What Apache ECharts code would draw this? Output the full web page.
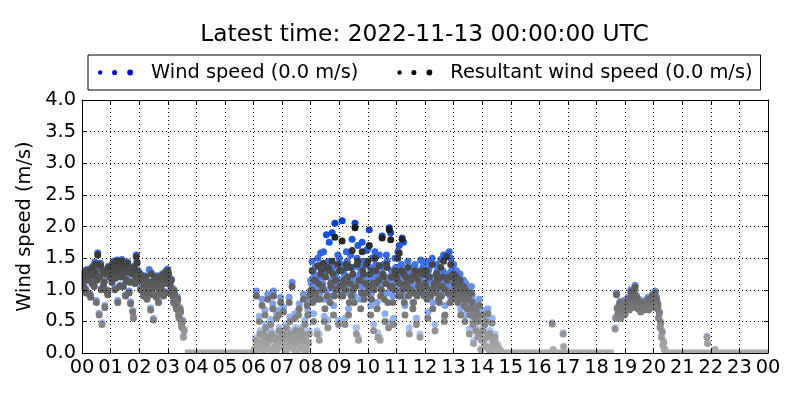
<!DOCTYPE html>
<html>
<head>
<meta charset="utf-8">
<script src="https://cdn.jsdelivr.net/npm/echarts@6/dist/echarts.min.js"></script>
<style>html,body{margin:0;padding:0;background:#fff}#chart{width:800px;height:400px}</style>
</head>
<body>
<div id="chart"></div>
<script>
// ---- data (3-minute samples; "b" arrays are the samples in between) ----
const stepMinutes = 3;

const segment1Start = '00:00';
const windSpeed1 = [
  1.22,1.08,1.3,0.98,1.18,1.33,0.9,1.13,1.25,1.44,0.83,1.58,0.63,1.42,0.48,1.08,0.75,1.28,0.95,1.33,
  1.38,1.15,1.45,1.03,1.31,0.83,1.41,1.23,1.48,1.08,1.35,1.18,1.43,0.98,0.81,1.28,0.58,1.13,1.55,1.31,
  1.28,1.03,1.18,0.93,1.13,1.08,0.98,1.32,0.71,1.03,0.55,1.15,0.91,1.21,0.98,1.08,1.25,0.93,1.13,1.31,
  1.33,1.18,0.98,1.03,0.83,0.93,0.73,0.88,0.58,0.68,0.43,0.28
];
const resultant1 = [
  1.2,1.05,1.28,0.95,1.15,1.3,0.88,1.1,1.22,1.4,0.8,1.55,0.6,1.38,0.45,1.05,0.72,1.25,0.92,1.3,
  1.35,1.12,1.42,1.0,1.28,0.8,1.38,1.2,1.45,1.05,1.32,1.15,1.4,0.95,0.78,1.25,0.55,1.1,1.52,1.28,
  1.25,1.0,1.15,0.9,1.1,1.05,0.95,1.08,0.68,1.0,0.52,1.12,0.88,1.18,0.95,1.05,1.22,0.9,1.1,1.28,
  1.3,1.15,0.95,1.0,0.8,0.9,0.7,0.85,0.55,0.65,0.4,0.25
];
const segment1bStart = '00:01.5';
const windSpeed1b = [
  1.12,1.27,1.02,1.32,1.2,0.94,1.24,1.37,1.07,1.3,1.17,1.42,1.22,1.02,1.32,1.14,1.27,1.0,1.37,1.22,
  1.27,1.42,1.32,1.2,1.47,1.37,1.07,1.32,1.24,1.4,0.92,1.44,1.3,1.14,1.32,0.67,1.37,1.22,1.44,1.17,
  1.17,1.24,1.0,1.1,1.22,0.87,1.14,1.02,1.27,0.94,1.17,1.07,1.22,0.82,1.12,1.02,1.2,1.27,0.97,1.24,
  1.27,1.1,1.17,0.92,1.0,0.77,0.82,0.62,0.72,0.47,0.52,0.37
];
const resultant1b = [
  1.1,1.25,1.0,1.3,1.18,0.92,1.22,1.35,1.05,1.28,1.15,1.4,1.2,1.0,1.3,1.12,1.25,0.98,1.35,1.2,
  1.25,1.4,1.3,1.18,1.45,1.35,1.05,1.3,1.22,1.38,0.9,1.42,1.28,1.12,1.3,0.65,1.35,1.2,1.42,1.15,
  1.15,1.22,0.98,1.08,1.2,0.85,1.12,1.0,1.25,0.92,1.15,1.05,1.2,0.8,1.1,1.0,1.18,1.25,0.95,1.22,
  1.25,1.08,1.15,0.9,0.98,0.75,0.8,0.6,0.7,0.45,0.5,0.35
];

const segment2Start = '06:00';
const windSpeed2 = [
  0,0.03,0.98,0.2,0.58,0.08,0.85,0.36,0.68,0.14,0.93,0.25,0.53,0.04,0.98,0.3,0.63,0.14,0.4,0.88,
  0.25,0.72,0.08,0.46,0.2,0.88,0.35,1.12,0.14,0.62,0.3,0.04,0.78,0.4,0.2,0.93,0.52,0.08,0.68,0.35,
  1.15,1.45,0.62,1.35,1.0,1.5,0.3,1.58,1.2,1.6,0.85,1.87,0.52,1.75,1.3,1.9,0.75,2.05,1.15,1.55,
  1.5,1.1,2.09,1.3,0.55,1.6,1.4,0.95,1.55,1.8,1.2,2.05,0.4,1.7,1.35,0.85,1.75,1.45,1.1,1.62,
  1.65,1.95,0.75,1.5,0.45,1.6,1.3,0.32,1.55,1.05,1.85,1.4,0.62,1.55,0.95,1.98,1.9,1.25,0.55,1.5,
  1.35,1.6,1.7,1.05,1.82,1.75,0.75,1.25,1.45,0.4,1.15,1.35,0.95,1.4,0.55,1.3,1.1,1.47,1.2,1.42,
  1.25,1.45,0.65,1.35,1.05,1.5,1.15,0.45,1.4,1.3,0.95,1.48,1.2,1.55,0.75,1.55,1.1,1.6,1.5,1.0,
  1.4,1.15,1.3,0.92,1.2,0.7,1.05,1.15,0.6,0.98,1.02,0.38,0.8,0.9,0.2,0.62,0.75,0.3,0.85,0.08,
  0.68,0.25,0.52,0.14,0.7,0.35,0.08,0.55,0.2,0.3,0.03,0.14,0.08,0.03
];
const resultant2 = [
  0,0,0.9,0.15,0.5,0.05,0.75,0.3,0.6,0.1,0.85,0.2,0.45,0.02,0.9,0.25,0.55,0.1,0.35,0.8,
  0.2,0.65,0.05,0.4,0.15,0.8,0.3,1.05,0.1,0.55,0.25,0.02,0.7,0.35,0.15,0.85,0.45,0.05,0.6,0.3,
  0.95,1.3,0.5,1.15,0.85,1.38,0.2,1.25,1.05,1.42,0.7,1.35,0.4,1.3,1.1,1.45,0.6,1.83,1.0,1.4,
  1.3,0.9,1.77,1.1,0.45,1.4,1.2,0.8,1.35,1.62,1.0,1.98,0.3,1.45,1.15,0.7,1.6,1.25,0.95,1.4,
  1.45,1.7,0.6,1.3,0.35,1.5,1.1,0.25,1.38,0.9,1.82,1.2,0.5,1.4,0.8,1.95,1.79,1.05,0.45,1.3,
  1.2,1.5,1.58,0.9,1.8,1.25,0.6,1.1,1.35,0.3,1.0,1.2,0.8,1.3,0.45,1.15,0.95,1.28,1.05,1.3,
  1.1,1.3,0.55,1.2,0.9,1.4,1.0,0.35,1.25,1.15,0.8,1.35,1.05,1.45,0.6,1.52,0.95,1.2,1.4,0.85,
  1.25,1.0,1.2,0.8,1.1,0.6,0.95,1.05,0.5,0.85,0.9,0.3,0.7,0.8,0.15,0.55,0.65,0.25,0.75,0.05,
  0.6,0.2,0.45,0.1,0.62,0.3,0.05,0.47,0.15,0.25,0.02,0.1,0.05,0.02
];
const segment2bStart = '06:01.5';
const windSpeed2b = [
  0.07,0.24,0.13,0.02,0.35,0.13,0.24,0.07,0.46,0.18,0.3,0.07,0.35,0.78,0.13,0.24,0.07,0.68,0.18,0.3,
  0.13,0.35,0.18,0.07,0.3,0.57,0.13,0.24,0.07,0.4,0.18,0.68,0.3,0.13,0.35,0.07,0.24,0.83,0.18,0.98,
  1.1,0.9,1.25,1.05,0.35,1.2,0.95,1.4,1.1,0.58,1.3,1.0,1.45,0.9,1.15,1.35,1.0,1.25,1.1,0.52,
  1.15,1.4,1.0,1.25,1.1,1.45,0.7,1.2,1.0,1.35,0.9,1.15,1.5,0.25,1.25,1.05,1.4,0.95,1.2,1.05,
  1.15,1.35,0.95,1.2,1.1,1.4,0.8,1.25,0.25,1.1,1.35,0.95,1.2,1.45,0.48,1.15,1.3,0.9,1.1,1.35,
  1.25,1.0,1.2,1.4,1.1,0.9,1.3,1.15,1.0,1.1,1.25,0.8,1.05,1.3,1.0,1.15,0.3,1.1,1.35,1.0,
  1.15,0.95,1.3,1.05,1.1,0.8,1.2,1.05,1.3,0.95,1.15,1.0,1.3,0.58,1.1,1.25,1.05,0.9,1.3,1.05,
  1.2,1.3,1.0,1.1,1.25,0.95,1.05,0.85,1.1,0.8,0.95,0.68,1.05,0.52,0.8,0.4,0.68,0.57,0.35,0.24,
  0.4,0.13,0.57,0.3,0.07,0.35,0.13,0.24,0.07,0.18,0.03,0.07,0.03,0.03
];
const resultant2b = [
  0.05,0.2,0.1,0.0,0.3,0.1,0.2,0.05,0.4,0.15,0.25,0.05,0.3,0.7,0.1,0.2,0.05,0.6,0.15,0.25,
  0.1,0.3,0.15,0.05,0.25,0.5,0.1,0.2,0.05,0.35,0.15,0.6,0.25,0.1,0.3,0.05,0.2,0.75,0.15,0.9,
  1.0,0.8,1.15,0.95,0.3,1.1,0.85,1.3,1.0,0.5,1.2,0.9,1.35,0.8,1.05,1.25,0.9,1.15,1.0,0.45,
  1.05,1.3,0.9,1.15,1.0,1.35,0.6,1.1,0.9,1.25,0.8,1.05,1.4,0.2,1.15,0.95,1.3,0.85,1.1,0.95,
  1.05,1.25,0.85,1.1,1.0,1.3,0.7,1.15,0.2,1.0,1.25,0.85,1.1,1.35,0.4,1.05,1.2,0.8,1.0,1.25,
  1.15,0.9,1.1,1.3,1.0,0.8,1.2,1.05,0.9,1.0,1.15,0.7,0.95,1.2,0.9,1.05,0.25,1.0,1.25,0.9,
  1.05,0.85,1.2,0.95,1.0,0.7,1.1,0.95,1.2,0.85,1.05,0.9,1.2,0.5,1.0,1.15,0.95,0.8,1.2,0.95,
  1.1,1.2,0.9,1.0,1.15,0.85,0.95,0.75,1.0,0.7,0.85,0.6,0.95,0.45,0.7,0.35,0.6,0.5,0.3,0.2,
  0.35,0.1,0.5,0.25,0.05,0.3,0.1,0.2,0.05,0.15,0.02,0.05,0.02,0.02
];

const segment3Start = '18:39';
const windSpeed3 = [
  0.4,0.95,0.63,0.78,0.58,0.73,0.83,0.65,0.75,0.88,0.71,1.0,0.81,0.93,1.07,0.91,0.73,0.85,
  0.68,0.78,0.71,0.83,0.75,0.88,0.73,0.81,0.93,0.83,0.98,0.88,0.79,0.66,0.5,0.35,0.19,0.06
];
const resultant3 = [
  0.38,0.92,0.6,0.75,0.55,0.7,0.8,0.62,0.72,0.85,0.68,0.97,0.78,0.9,1.04,0.88,0.7,0.82,
  0.65,0.75,0.68,0.8,0.72,0.85,0.7,0.78,0.9,0.8,0.95,0.85,0.76,0.63,0.47,0.33,0.17,0.05
];
const segment3bStart = '18:40.5';
const windSpeed3b = [
  0.57,0.72,0.67,0.82,0.7,0.77,0.62,0.8,0.72,0.84,0.77,0.9,0.74,0.97,0.82,0.76,0.8,0.7,
  0.74,0.82,0.72,0.77,0.84,0.7,0.78,0.87,0.74,0.9,0.82,0.72,0.57,0.42,0.27,0.14,0.06
];
const resultant3b = [
  0.55,0.7,0.65,0.8,0.68,0.75,0.6,0.78,0.7,0.82,0.75,0.88,0.72,0.95,0.8,0.74,0.78,0.68,
  0.72,0.8,0.7,0.75,0.82,0.68,0.76,0.85,0.72,0.88,0.8,0.7,0.55,0.4,0.25,0.12,0.05
];

const isolatedTimes = ['16:27','16:29','16:50','16:51','21:52','21:53','22:09'];
const isolatedWind = [0.48,0.06,0.32,0.11,0.27,0.16,0.06];
const isolatedResultant = [0.46,0.05,0.3,0.1,0.25,0.15,0.05];

// periods where both speeds are 0.0 m/s
const calmPeriods = [['03:36','06:06'],['14:42','18:36'],['20:27','24:00']];

const xTickLabels = ['00','01','02','03','04','05','06','07','08','09','10','11','12',
  '13','14','15','16','17','18','19','20','21','22','23','00'];
const windName = 'Wind speed (0.0 m/s)';
const resultantName = 'Resultant wind speed (0.0 m/s)';
const titleText = 'Latest time: 2022-11-13 00:00:00 UTC';
const yAxisTitle = 'Wind speed (m/s)';

// ---- helpers ----
const toHours = s => { const p = s.split(':').map(Number); return p[0] + p[1] / 60; };
const seg = (start, vals) => { const t0 = toHours(start); return vals.map((v, i) => [t0 + i * stepMinutes / 60, v]); };
const iso = vals => isolatedTimes.map((t, i) => [toHours(t), vals[i]]);

const windData = [].concat(
  seg(segment1Start, windSpeed1), seg(segment1bStart, windSpeed1b),
  seg(segment2Start, windSpeed2), seg(segment2bStart, windSpeed2b),
  seg(segment3Start, windSpeed3), seg(segment3bStart, windSpeed3b), iso(isolatedWind));
const resultantData = [].concat(
  seg(segment1Start, resultant1), seg(segment1bStart, resultant1b),
  seg(segment2Start, resultant2), seg(segment2bStart, resultant2b),
  seg(segment3Start, resultant3), seg(segment3bStart, resultant3b), iso(isolatedResultant));

const clamp = (v, a, b) => Math.max(a, Math.min(b, v));
const grayColor = v => { const L = Math.round(clamp(172 - 75 * v, 0, 255)); return `rgb(${L},${L},${L})`; };
const blueColor = v => {
  const r = Math.round(clamp(200 - 100 * v, 0, 255));
  const g = Math.round(clamp(220 - 75 * v, 50, 255));
  const b = Math.round(clamp(255 - 12 * v, 0, 255));
  return `rgb(${r},${g},${b})`;
};

const FONT = 'DejaVu Sans';
const FS = 19.4;
const dots = 'path://M0,3a2,2 0 1,0 4,0a2,2 0 1,0 -4,0z M12.7,3a2.3,2.3 0 1,0 4.6,0a2.3,2.3 0 1,0 -4.6,0z M26.4,3a2.6,2.6 0 1,0 5.2,0a2.6,2.6 0 1,0 -5.2,0z';

const axisCommon = {
  type: 'value', z: 5,
  axisLine: { show: true, onZero: false, lineStyle: { color: '#000', width: 1 } },
  axisTick: { show: true, inside: true, length: 4, lineStyle: { color: '#000', width: 1 } }
};

const chart = echarts.init(document.getElementById('chart'), null, { renderer: 'canvas' });
chart.setOption({
  animation: false,
  backgroundColor: '#fff',
  grid: { left: 82, right: 32, top: 100, bottom: 47 },
  legend: {
    left: 88, top: 55,
    padding: [8, 8, 8, 10],
    borderColor: '#000', borderWidth: 1, borderRadius: 0,
    itemWidth: 35, itemHeight: 6, itemGap: 39,
    textStyle: { fontFamily: FONT, fontSize: FS, color: '#000', padding: [0, 0, 0, 13] },
    data: [
      { name: windName, icon: dots, itemStyle: { color: '#0000ff' } },
      { name: resultantName, icon: dots, itemStyle: { color: '#000000' } }
    ],
    selectedMode: false
  },
  xAxis: [
    Object.assign({}, axisCommon, {
      position: 'bottom', min: 0, max: 24, interval: 1,
      axisLabel: { show: true, fontFamily: FONT, fontSize: FS, color: '#000', margin: 5,
        formatter: v => xTickLabels[Math.round(v)] },
      splitLine: { show: true, lineStyle: { color: '#000', width: 1, type: [1, 3] } }
    }),
    Object.assign({}, axisCommon, {
      position: 'top', min: 0, max: 24, interval: 1,
      axisLabel: { show: false }, splitLine: { show: false }
    })
  ],
  yAxis: [
    Object.assign({}, axisCommon, {
      position: 'left', min: 0, max: 4, interval: 0.5,
      name: yAxisTitle, nameLocation: 'middle', nameGap: 42,
      nameTextStyle: { fontFamily: FONT, fontSize: FS, color: '#000' },
      axisLabel: { show: true, fontFamily: FONT, fontSize: FS, color: '#000', margin: 6,
        formatter: v => v.toFixed(1) },
      splitLine: { show: true, lineStyle: { color: '#000', width: 1, type: [1, 3] } }
    }),
    Object.assign({}, axisCommon, {
      position: 'right', min: 0, max: 4, interval: 0.5,
      axisLabel: { show: false }, splitLine: { show: false }
    })
  ],
  graphic: [
    { type: 'text', x: 424.5, y: 35, z: 10,
      style: { text: titleText, fontFamily: FONT, fontSize: 23.3, fill: '#000',
        textAlign: 'center', textVerticalAlign: 'middle' } },
    { type: 'rect', z: 4, shape: { x: 77, y: 96, width: 4.5, height: 258 }, style: { fill: '#fff' } },
    { type: 'rect', z: 4, shape: { x: 74, y: 353.5, width: 700, height: 4 }, style: { fill: '#fff' } }
  ],
  series: [
    {
      name: windName, type: 'scatter', symbolSize: 7, z: 2,
      data: windData,
      itemStyle: { opacity: 1, color: p => blueColor(p.value[1]) },
      emphasis: { disabled: true }
    },
    {
      name: resultantName, type: 'scatter', symbolSize: 7, z: 2,
      data: resultantData,
      itemStyle: { opacity: 1, color: p => grayColor(p.value[1]) },
      emphasis: { disabled: true }
    }
  ].concat(calmPeriods.map(p => ({
    type: 'line', z: 3, symbol: 'none', clip: true, silent: true,
    data: [[toHours(p[0]), 0], [toHours(p[1]), 0]],
    lineStyle: { color: '#aaaaaa', width: 7, cap: 'butt' }
  })))
});
</script>
</body>
</html>
